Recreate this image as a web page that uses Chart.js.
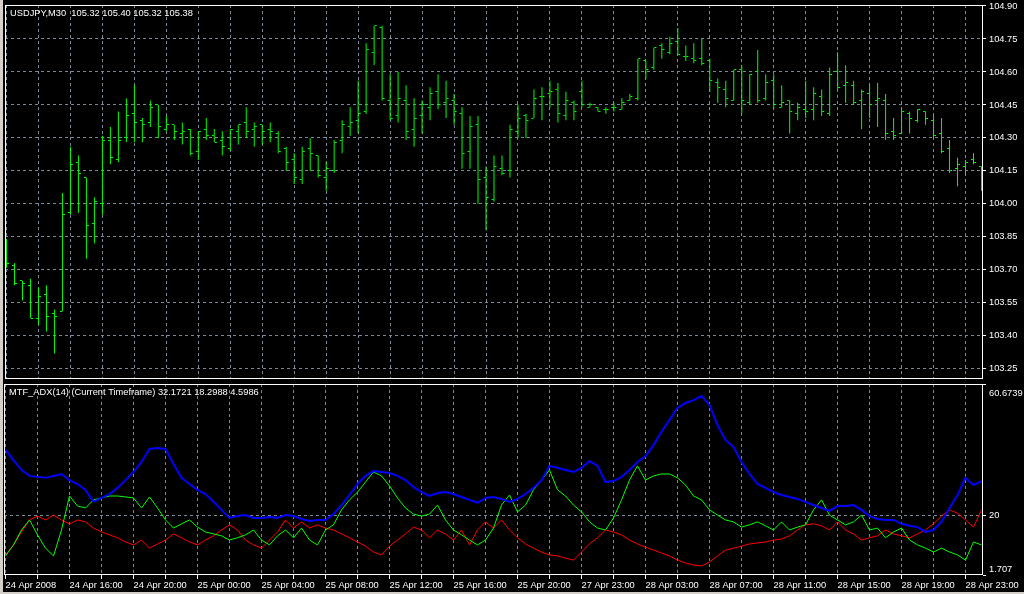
<!DOCTYPE html>
<html>
<head>
<meta charset="utf-8">
<script src="https://cdn.jsdelivr.net/npm/chart.js@4.4.0/dist/chart.umd.min.js"></script>
<style>
  html, body { margin: 0; padding: 0; background: #000; }
  #wrap { position: relative; width: 1024px; height: 594px; background: #000; overflow: hidden; }
  #priceBox { position: absolute; left: 0; top: 0; width: 1024px; height: 384px; }
  #adxBox { position: absolute; left: 0; top: 384px; width: 1024px; height: 210px; }
  #edge { position: absolute; left: 0; top: 0; width: 3px; height: 594px; background: #d4d0c8; }
  #edgeBottom { position: absolute; left: 0; top: 592px; width: 1024px; height: 2px; background: #d4d0c8; }
</style>
</head>
<body>
<div id="wrap">
  <div id="priceBox"><canvas id="priceChart" width="1024" height="384"></canvas></div>
  <div id="adxBox"><canvas id="adxChart" width="1024" height="210"></canvas></div>
  <div id="edge"></div>
  <div id="edgeBottom"></div>
</div>
<script>
// time labels, one every 8 bars (M30)
const timeLabels = ["24 Apr 2008", "24 Apr 16:00", "24 Apr 20:00", "25 Apr 00:00", "25 Apr 04:00",
  "25 Apr 08:00", "25 Apr 12:00", "25 Apr 16:00", "25 Apr 20:00", "27 Apr 23:00", "28 Apr 03:00",
  "28 Apr 07:00", "28 Apr 11:00", "28 Apr 15:00", "28 Apr 19:00", "28 Apr 23:00"];

const priceTicks = [103.25, 103.40, 103.55, 103.70, 103.85, 104.00, 104.15, 104.30, 104.45, 104.60, 104.75, 104.90];
const adxTicks = [1.707, 20, 60.6739];

// USDJPY M30 bars
const openP = [103.78, 103.72, 103.65, 103.63, 103.48, 103.59, 103.50, 103.51, 103.96, 104.19,
  104.12, 103.91, 104.00, 104.29, 104.20, 104.30, 104.41, 104.38, 104.37, 104.45,
  104.34, 104.36, 104.32, 104.34, 104.24, 104.34, 104.31, 104.29, 104.25, 104.33,
  104.37, 104.34, 104.36, 104.34, 104.32, 104.25, 104.20, 104.11, 104.25, 104.22,
  104.12, 104.15, 104.29, 104.35, 104.38, 104.42, 104.69, 104.80, 104.47, 104.40,
  104.47, 104.34, 104.40, 104.44, 104.51, 104.46, 104.47, 104.41, 104.24, 104.36,
  104.12, 104.02, 104.16, 104.15, 104.33, 104.40, 104.39, 104.49, 104.50, 104.52,
  104.40, 104.46, 104.51, 104.44, 104.44, 104.43, 104.44, 104.43, 104.47, 104.48,
  104.65, 104.62, 104.72, 104.69, 104.74, 104.67, 104.66, 104.66, 104.65, 104.55,
  104.52, 104.47, 104.61, 104.46, 104.60, 104.48, 104.56, 104.44, 104.47, 104.41,
  104.43, 104.43, 104.49, 104.41, 104.60, 104.54, 104.54, 104.47, 104.50, 104.47,
  104.47, 104.33, 104.32, 104.41, 104.38, 104.42, 104.38, 104.32, 104.25, 104.16,
  104.17, 104.20, 104.17];
const highP = [103.84, 103.73, 103.65, 103.66, 103.62, 103.63, 103.52, 104.05, 104.26, 104.22,
  104.12, 104.03, 104.31, 104.35, 104.42, 104.48, 104.54, 104.39, 104.47, 104.45,
  104.40, 104.36, 104.37, 104.34, 104.33, 104.39, 104.34, 104.33, 104.34, 104.36,
  104.44, 104.37, 104.36, 104.37, 104.33, 104.26, 104.23, 104.26, 104.30, 104.22,
  104.19, 104.29, 104.38, 104.44, 104.56, 104.73, 104.81, 104.81, 104.59, 104.60,
  104.54, 104.48, 104.47, 104.53, 104.59, 104.56, 104.50, 104.44, 104.40, 104.40,
  104.17, 104.22, 104.22, 104.36, 104.45, 104.41, 104.52, 104.53, 104.56, 104.55,
  104.51, 104.47, 104.56, 104.46, 104.44, 104.44, 104.46, 104.48, 104.50, 104.66,
  104.65, 104.71, 104.73, 104.76, 104.80, 104.72, 104.73, 104.75, 104.66, 104.57,
  104.56, 104.61, 104.63, 104.59, 104.70, 104.59, 104.59, 104.54, 104.47, 104.46,
  104.56, 104.53, 104.52, 104.62, 104.69, 104.63, 104.56, 104.52, 104.54, 104.55,
  104.50, 104.39, 104.44, 104.42, 104.43, 104.42, 104.40, 104.39, 104.29, 104.21,
  104.20, 104.23, 104.17];
const lowP = [103.71, 103.63, 103.56, 103.48, 103.45, 103.42, 103.32, 103.51, 103.95, 103.96,
  103.75, 103.82, 103.95, 104.18, 104.19, 104.28, 104.28, 104.28, 104.35, 104.30,
  104.33, 104.29, 104.27, 104.22, 104.20, 104.29, 104.28, 104.22, 104.24, 104.27,
  104.30, 104.26, 104.27, 104.28, 104.23, 104.15, 104.09, 104.09, 104.15, 104.12,
  104.06, 104.14, 104.23, 104.31, 104.32, 104.41, 104.63, 104.47, 104.38, 104.37,
  104.29, 104.26, 104.32, 104.38, 104.43, 104.39, 104.36, 104.16, 104.16, 104.00,
  103.88, 104.01, 104.13, 104.12, 104.30, 104.30, 104.39, 104.38, 104.44, 104.37,
  104.38, 104.38, 104.44, 104.44, 104.42, 104.41, 104.42, 104.43, 104.47, 104.47,
  104.57, 104.61, 104.66, 104.68, 104.68, 104.65, 104.64, 104.63, 104.51, 104.46,
  104.44, 104.47, 104.41, 104.45, 104.46, 104.47, 104.43, 104.44, 104.32, 104.38,
  104.39, 104.38, 104.40, 104.40, 104.52, 104.46, 104.45, 104.34, 104.39, 104.35,
  104.29, 104.29, 104.32, 104.32, 104.37, 104.36, 104.30, 104.23, 104.14, 104.08,
  104.13, 104.18, 104.06];
const closeP = [103.73, 103.64, 103.64, 103.48, 103.58, 103.49, 103.49, 103.95, 104.18, 104.14,
  103.90, 104.01, 104.29, 104.21, 104.29, 104.40, 104.37, 104.36, 104.44, 104.35,
  104.36, 104.33, 104.33, 104.23, 104.33, 104.31, 104.28, 104.26, 104.34, 104.36,
  104.33, 104.35, 104.33, 104.33, 104.24, 104.19, 104.12, 104.24, 104.23, 104.13,
  104.16, 104.28, 104.36, 104.37, 104.41, 104.70, 104.81, 104.48, 104.39, 104.48,
  104.33, 104.39, 104.45, 104.50, 104.45, 104.48, 104.42, 104.23, 104.35, 104.11,
  104.03, 104.17, 104.14, 104.34, 104.39, 104.38, 104.48, 104.49, 104.51, 104.41,
  104.47, 104.42, 104.45, 104.45, 104.42, 104.43, 104.44, 104.46, 104.49, 104.66,
  104.61, 104.71, 104.70, 104.73, 104.68, 104.67, 104.65, 104.64, 104.56, 104.53,
  104.48, 104.61, 104.47, 104.59, 104.47, 104.55, 104.45, 104.46, 104.42, 104.44,
  104.42, 104.50, 104.42, 104.59, 104.53, 104.55, 104.46, 104.51, 104.45, 104.48,
  104.32, 104.31, 104.42, 104.39, 104.43, 104.39, 104.31, 104.24, 104.15, 104.18,
  104.19, 104.19, 104.08];

// MTF_ADX(14): main line, +DI, -DI
const adxMain = [40.3, 37.2, 34.1, 32.3, 32.0, 31.7, 32.3, 32.9, 31.0, 29.8,
  28.0, 24.3, 25.5, 26.7, 28.6, 31.0, 33.5, 36.6, 40.6, 40.9,
  40.6, 36.0, 31.7, 29.8, 28.0, 26.7, 24.3, 21.8, 19.3, 19.9,
  20.2, 19.3, 19.3, 19.6, 19.3, 20.2, 19.9, 19.0, 18.4, 18.7,
  18.7, 20.5, 23.3, 26.4, 29.8, 32.3, 33.8, 33.5, 33.2, 32.3,
  31.0, 28.9, 27.3, 26.1, 27.0, 27.3, 26.7, 25.8, 24.9, 24.0,
  25.5, 25.8, 25.2, 24.3, 25.2, 26.7, 28.6, 31.0, 35.4, 34.8,
  34.1, 33.5, 34.8, 36.9, 35.4, 30.4, 30.7, 32.0, 34.1, 36.6,
  38.4, 41.8, 45.9, 49.6, 53.3, 54.8, 55.7, 57.0, 54.2, 48.0,
  43.4, 41.2, 36.6, 32.9, 29.8, 28.6, 27.3, 26.4, 25.8, 25.2,
  24.3, 23.3, 22.4, 21.5, 23.0, 23.0, 23.3, 21.8, 19.9, 19.0,
  18.7, 18.7, 17.5, 16.9, 16.5, 15.0, 15.6, 18.1, 22.4, 26.4,
  31.7, 29.5, 30.7];
const plusDI = [7.6, 11.0, 15.6, 18.7, 14.1, 10.0, 7.6, 15.6, 26.1, 23.0,
  22.4, 24.9, 25.5, 26.1, 26.1, 25.8, 25.5, 22.4, 25.8, 22.4,
  18.7, 16.2, 17.5, 18.7, 16.5, 15.0, 14.4, 13.8, 12.5, 13.2,
  14.1, 15.6, 12.5, 11.0, 13.8, 15.6, 13.2, 16.2, 12.5, 11.0,
  15.6, 17.2, 21.8, 24.9, 27.3, 30.4, 33.5, 32.3, 29.2, 25.5,
  22.4, 20.5, 19.9, 20.5, 23.3, 18.7, 15.6, 14.1, 12.5, 11.0,
  12.5, 16.2, 23.3, 26.4, 21.2, 23.3, 28.0, 31.0, 34.1, 28.0,
  26.1, 23.3, 21.2, 18.1, 16.2, 15.6, 19.3, 24.9, 31.0, 35.4,
  31.0, 32.3, 32.9, 32.9, 31.7, 29.5, 26.1, 24.9, 21.8, 20.2,
  18.7, 18.1, 16.5, 17.2, 18.1, 16.9, 15.6, 18.1, 15.6, 16.5,
  17.2, 21.8, 24.9, 20.2, 18.7, 17.2, 18.1, 20.2, 15.6, 16.2,
  13.2, 15.0, 16.2, 12.5, 11.0, 10.0, 8.8, 10.0, 8.8, 7.9,
  6.3, 11.9, 11.0];
const minusDI = [7.9, 11.0, 15.0, 18.7, 19.9, 18.7, 20.2, 18.7, 17.5, 18.7,
  18.1, 16.2, 15.0, 14.1, 13.2, 11.9, 11.0, 12.5, 10.0, 11.3,
  12.5, 14.4, 13.2, 11.9, 11.0, 12.5, 13.8, 15.6, 17.2, 15.6,
  12.5, 11.0, 10.0, 12.5, 15.0, 18.7, 16.2, 18.1, 16.2, 17.2,
  16.2, 15.6, 14.4, 13.2, 11.9, 10.6, 8.8, 7.9, 10.6, 12.5,
  14.4, 16.5, 15.6, 13.2, 15.6, 14.4, 12.5, 15.6, 11.0, 15.6,
  18.1, 16.2, 18.7, 15.6, 13.2, 11.3, 10.0, 8.8, 7.9, 7.6,
  6.9, 6.3, 8.8, 11.3, 13.2, 15.6, 15.0, 14.1, 12.5, 11.3,
  10.3, 9.4, 8.5, 7.6, 6.3, 5.4, 4.8, 4.5, 5.7, 7.6,
  9.4, 10.0, 10.6, 11.3, 11.6, 11.9, 12.5, 12.8, 13.8, 15.6,
  17.2, 17.5, 16.9, 15.6, 18.1, 15.6, 14.4, 12.5, 13.2, 13.8,
  15.6, 14.4, 13.8, 13.2, 14.4, 15.6, 17.5, 19.9, 21.8, 20.8,
  18.7, 16.5, 21.8];

const GRID = "#778899";
const FONT = { family: "'Liberation Sans', Arial, sans-serif", size: 9.3 };
const FONT_CSS = "9.3px 'Liberation Sans', Arial, sans-serif";
const X_MIN = -0.1875;
const X_MAX = 122.1875;

const barIdx = openP.map((_, i) => i);
const gridIdx = barIdx.filter(i => i % 4 === 0);

// tiny open / close tick images
function tickImage(isOpen) {
  const c = document.createElement("canvas");
  c.width = 7;
  c.height = 1;
  const g = c.getContext("2d");
  g.fillStyle = "#00ff00";
  g.fillRect(isOpen ? 1 : 4, 0, 2, 1);
  return c;
}

// white frame round each plot area
const framePlugin = {
  id: "frame",
  afterDraw(chart) {
    const { ctx, chartArea: a } = chart;
    ctx.save();
    ctx.strokeStyle = "#ffffff";
    ctx.lineWidth = 1;
    ctx.strokeRect(a.left + 0.5, a.top + 0.5, a.right - a.left - 1, a.bottom - a.top - 1);
    ctx.restore();
  },
};

// header text in top-left corner of a panel
function headerPlugin(text) {
  return {
    id: "header",
    afterDraw(chart) {
      const ctx = chart.ctx;
      ctx.save();
      ctx.fillStyle = "#ffffff";
      ctx.font = FONT_CSS;
      ctx.textBaseline = "middle";
      ctx.textAlign = "left";
      ctx.fillText(text, chart.chartArea.left + 5, chart.chartArea.top + 8);
      ctx.restore();
    },
  };
}

function xScale(withLabels) {
  return {
    type: "linear",
    offset: false,
    min: X_MIN,
    max: X_MAX,
    afterBuildTicks: (s) => { s.ticks = gridIdx.map((v) => ({ value: v })); },
    ticks: {
      display: withLabels,
      color: "#ffffff",
      font: FONT,
      align: "start",
      maxRotation: 0,
      autoSkip: false,
      padding: 1,
      callback: (v) => (v % 8 === 0 ? timeLabels[v / 8] : ""),
    },
    grid: { offset: false, color: GRID, drawTicks: withLabels, tickColor: "#ffffff", tickLength: 4, tickBorderDash: [] },
    border: { display: false, dash: [3, 3] },
    afterFit: (s) => {
      s.height = withLabels ? 19 : 3;
      s.paddingLeft = 0;
      s.paddingRight = 0;
    },
  };
}

// ---- price panel ----
new Chart(document.getElementById("priceChart"), {
  data: {
    datasets: [
      {
        type: "scatter",
        data: barIdx.map((i) => ({ x: i, y: openP[i] })),
        pointStyle: tickImage(true),
        pointRadius: 3,
      },
      {
        type: "scatter",
        data: barIdx.map((i) => ({ x: i, y: closeP[i] })),
        pointStyle: tickImage(false),
        pointRadius: 3,
      },
      {
        type: "bar",
        data: barIdx.map((i) => ({ x: i, y: [lowP[i], highP[i]] })),
        backgroundColor: "#00ff00",
        borderWidth: 0,
        barThickness: 1,
        inflateAmount: 0,
      },
    ],
  },
  options: {
    responsive: false,
    animation: false,
    layout: { padding: { left: 4, right: 0, top: 3, bottom: 0 } },
    plugins: { legend: { display: false }, tooltip: { enabled: false } },
    scales: {
      x: xScale(false),
      y: {
        position: "right",
        min: 103.2035,
        max: 104.9045,
        afterBuildTicks: (s) => { s.ticks = priceTicks.map((v) => ({ value: v })); },
        ticks: { color: "#ffffff", font: FONT, padding: 3, callback: (v) => v.toFixed(2) },
        grid: { color: GRID, tickColor: "#ffffff", tickLength: 3, tickBorderDash: [] },
        border: { display: false, dash: [3, 3] },
        afterFit: (s) => {
          s.width = 41;
          s.paddingTop = 0;
          s.paddingBottom = 0;
        },
      },
    },
  },
  plugins: [framePlugin, headerPlugin("USDJPY,M30  105.32 105.40 105.32 105.38")],
});

// ---- ADX panel ----
const adxLabels = {
  id: "adxLabels",
  afterDraw(chart) {
    const { ctx } = chart;
    const ys = chart.scales.y;
    ctx.save();
    ctx.fillStyle = "#ffffff";
    ctx.font = FONT_CSS;
    ctx.textAlign = "left";
    ctx.textBaseline = "middle";
    const x = chart.chartArea.right + 6;
    adxTicks.forEach((v) => {
      let y = ys.getPixelForValue(v);
      if (v === ys.max) y += 9;
      else if (v === ys.min) y -= 6;
      ctx.fillText(String(v), x, y);
    });
    ctx.restore();
  },
};

new Chart(document.getElementById("adxChart"), {
  type: "line",
  data: {
    datasets: [
      { data: barIdx.map((i) => ({ x: i, y: adxMain[i] })), borderColor: "#0000ff", borderWidth: 2 },
      { data: barIdx.map((i) => ({ x: i, y: plusDI[i] })), borderColor: "#00ff00", borderWidth: 1 },
      { data: barIdx.map((i) => ({ x: i, y: minusDI[i] })), borderColor: "#ff0000", borderWidth: 1 },
    ],
  },
  options: {
    responsive: false,
    animation: false,
    elements: { point: { radius: 0 }, line: { tension: 0 } },
    layout: { padding: { left: 4, right: 0, top: 0, bottom: 0 } },
    plugins: { legend: { display: false }, tooltip: { enabled: false } },
    scales: {
      x: xScale(true),
      y: {
        position: "right",
        min: 1.707,
        max: 60.6739,
        afterBuildTicks: (s) => { s.ticks = adxTicks.map((v) => ({ value: v })); },
        ticks: { display: false },
        grid: {
          color: (c) => (c.tick && c.tick.value === 20 ? GRID : "rgba(0,0,0,0)"),
          tickColor: "#ffffff",
          tickLength: 3,
          tickBorderDash: [],
        },
        border: { display: false, dash: [3, 3] },
        afterFit: (s) => {
          s.width = 41;
          s.paddingTop = 0;
          s.paddingBottom = 0;
        },
      },
    },
  },
  plugins: [framePlugin, adxLabels, headerPlugin("MTF_ADX(14) (Current Timeframe) 32.1721 18.2988 4.5986")],
});
</script>
</body>
</html>
